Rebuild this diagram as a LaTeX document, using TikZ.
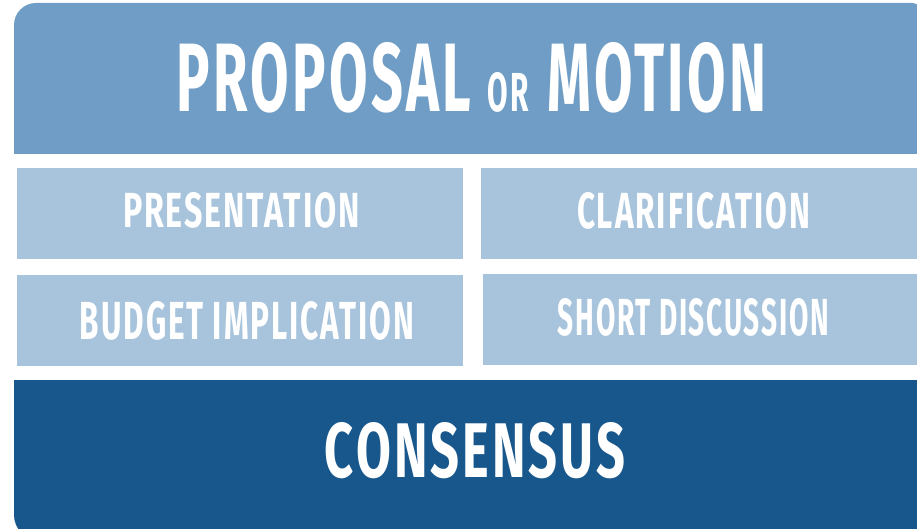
\documentclass[tikz,border=0pt]{standalone}
\usepackage{fontspec}
\usepackage{graphicx}
\newfontfamily\headfont[LetterSpace=6]{Fira Sans}
\definecolor{topc}{RGB}{111,157,197}
\definecolor{lightc}{RGB}{168,196,221}
\definecolor{darkc}{RGB}{24,87,140}
\tikzset{
  cell/.style={fill=lightc, draw=none, inner sep=0pt, anchor=north west},
  lbl/.style={text=white, inner sep=0pt, anchor=base, font=\headfont\bfseries},
}
\newcommand{\fitto}[3]{\resizebox{#1pt}{#2pt}{#3\kern-0.06em}}
\begin{document}
\begin{tikzpicture}[x=1pt,y=-1pt]
\useasboundingbox (0,0) rectangle (917,529);
% top band
\fill[topc] (14,154) [rounded corners=22pt] -- (14,3) [rounded corners=14pt] -- (925,3) [sharp corners] -- (925,154) -- cycle;
\node[lbl] (title) at (470,112) {\fitto{291}{69}{PROPOSAL}\hspace{20pt}\fitto{39}{39}{OR}\hspace{21pt}\fitto{215}{69}{MOTION}};
% middle cells
\node[cell, minimum width=446pt, minimum height=91pt] (c1) at (17,168) {};
\node[cell, minimum width=444pt, minimum height=91pt] (c2) at (481,168) {};
\node[cell, minimum width=446pt, minimum height=91pt] (c3) at (17,275) {};
\node[cell, minimum width=442pt, minimum height=91pt] (c4) at (483,274) {};
\node[lbl] (t1) at (240.5,228) {\fitto{235}{35}{PRESENTATION}};
\node[lbl] (t2) at (692.5,229) {\fitto{231}{36}{CLARIFICATION}};
\node[lbl] (t3) at (246,339) {\fitto{332}{38}{BUDGET IMPLICATION}};
\node[lbl] (t4) at (692.5,335) {\fitto{269}{37}{SHORT DISCUSSION}};
% bottom band
\fill[darkc] (14,380) [rounded corners=25pt] -- (14,540) [sharp corners] -- (925,540) -- (925,380) -- cycle;
\node[lbl] (t5) at (473.5,477) {\fitto{297}{55}{CONSENSUS}};
\end{tikzpicture}
\end{document}
